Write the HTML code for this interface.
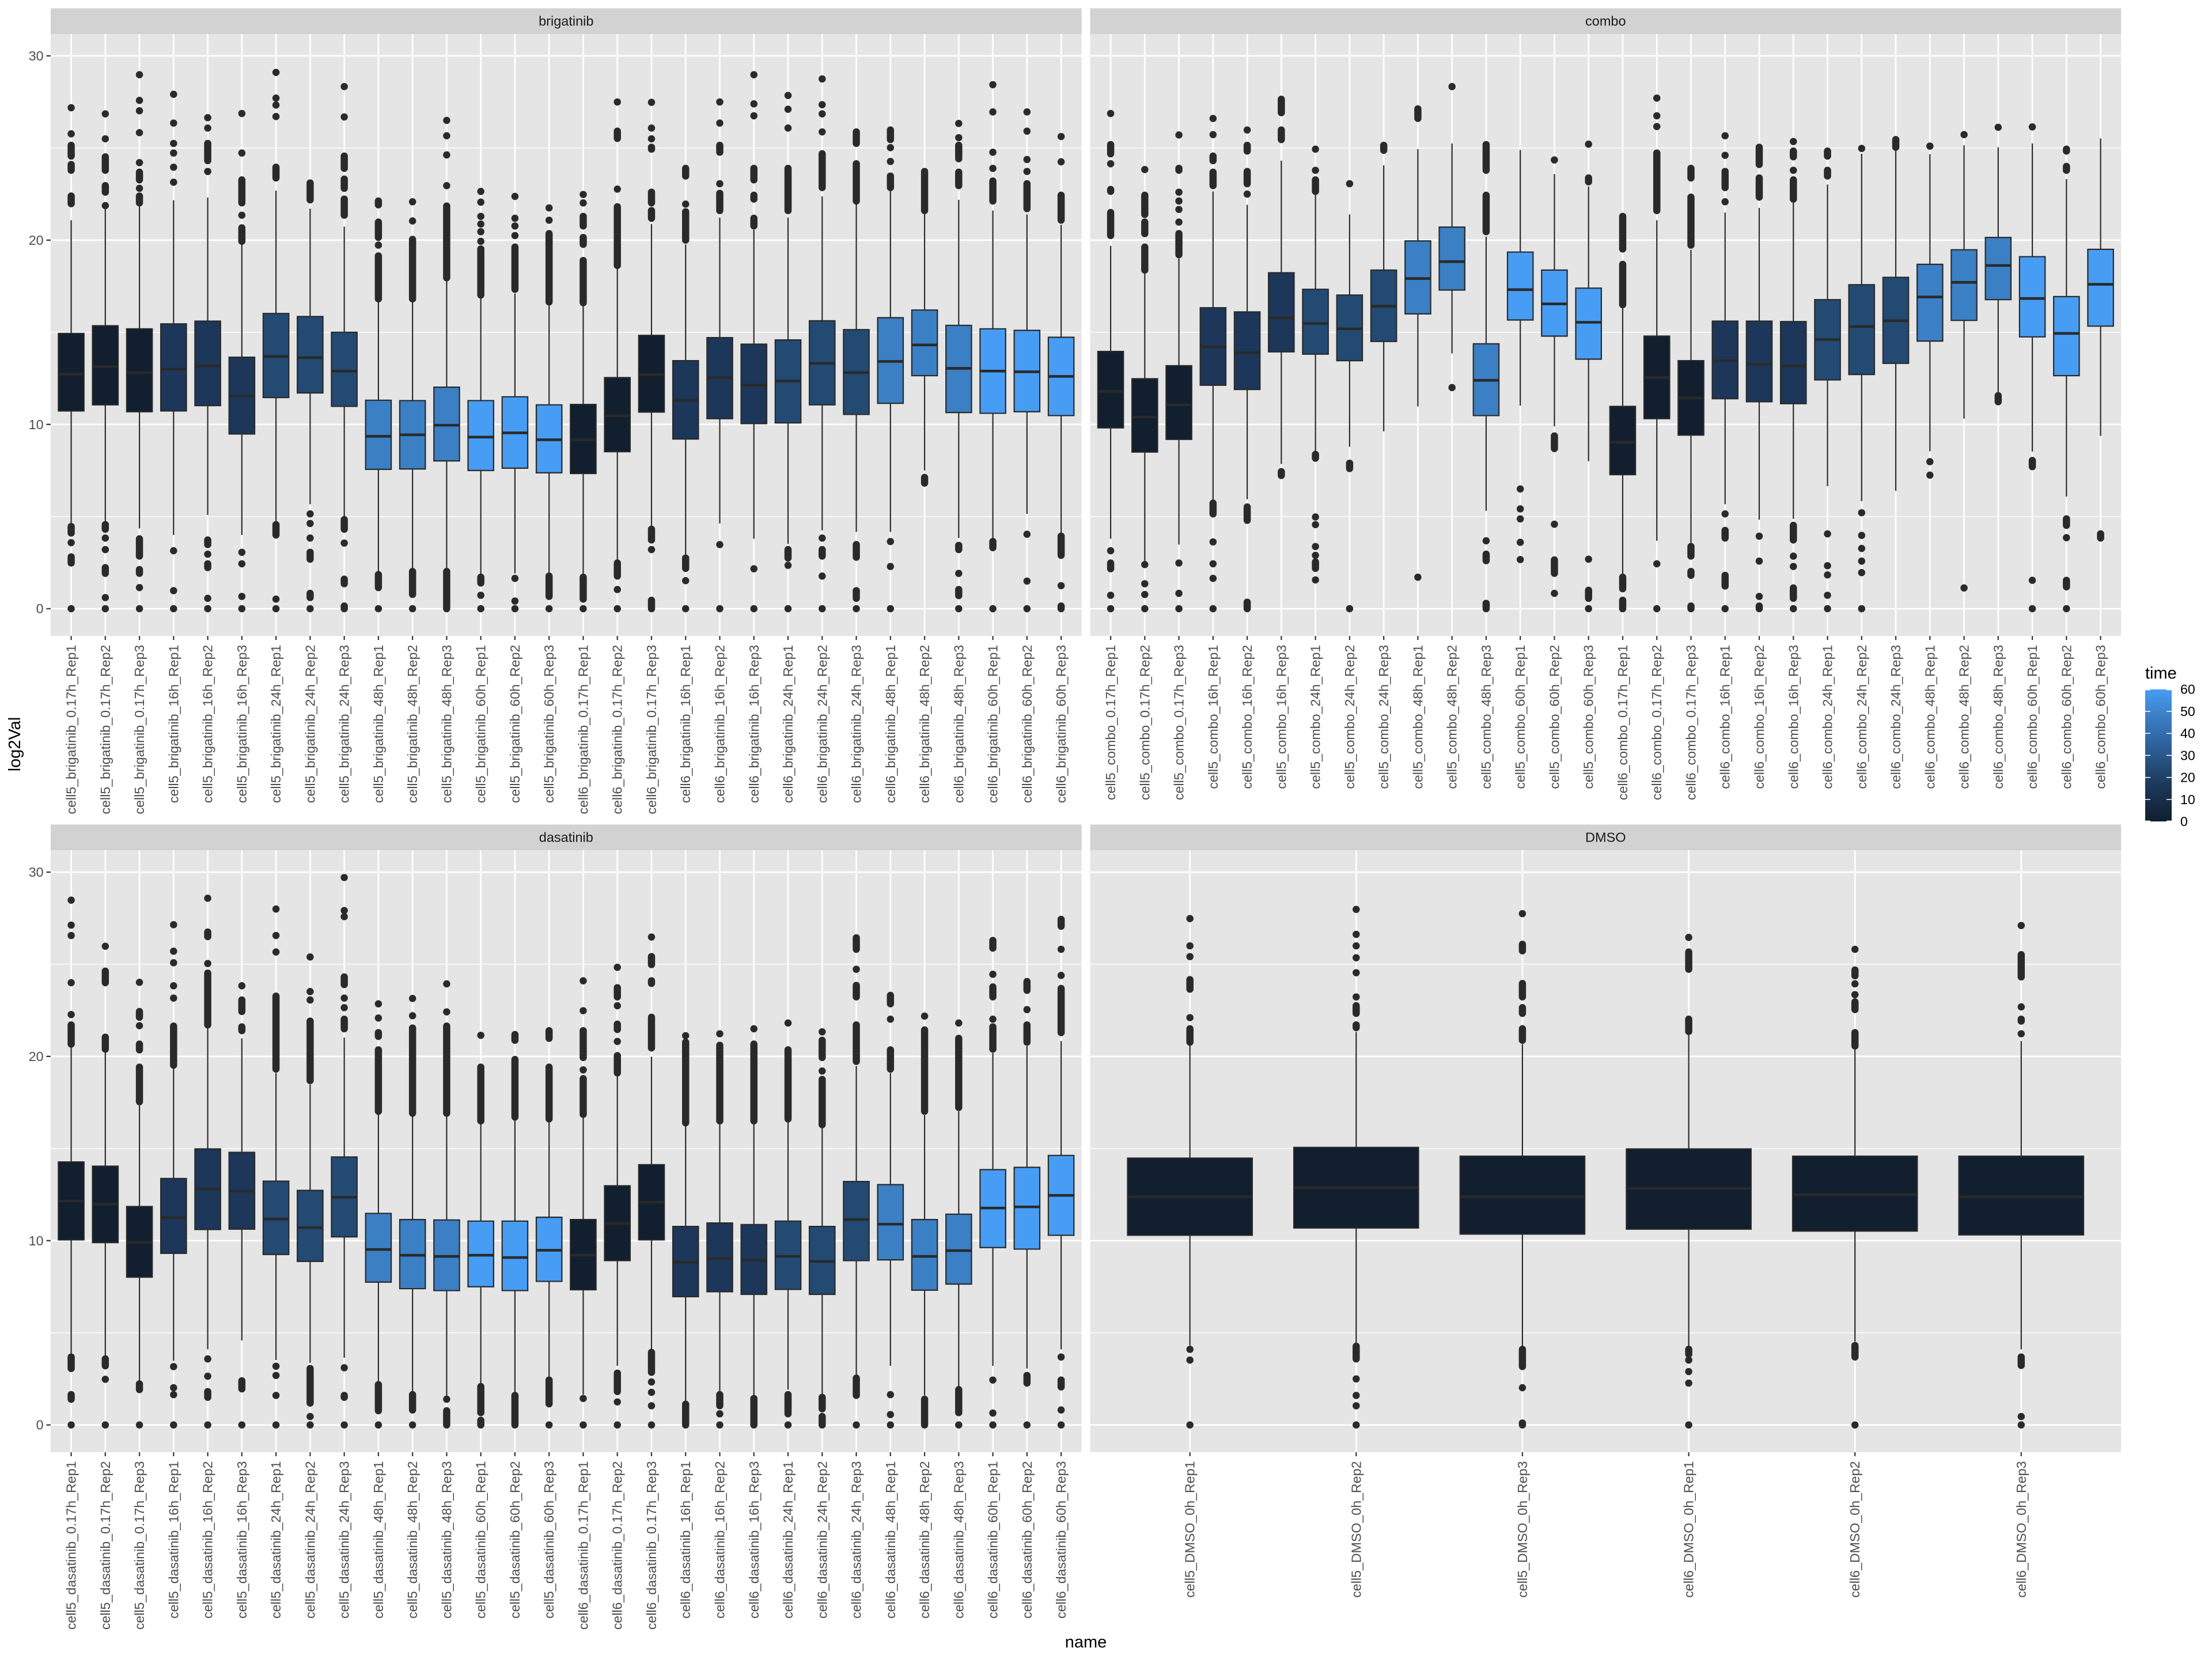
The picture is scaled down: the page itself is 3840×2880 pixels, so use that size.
<!DOCTYPE html>
<html><head><meta charset="utf-8"><style>
body{margin:0;background:#fff}
svg{display:block;font-family:"Liberation Sans",Arial,sans-serif}
.ns path,.ns rect{vector-effect:non-scaling-stroke}
.w{fill:none;stroke:#2A2A2A;stroke-width:2.2}
.bx rect{stroke:#2A2A2A;stroke-width:2.2}
.md{fill:none;stroke:#2A2A2A;stroke-width:4.6}
.o{fill:none;stroke:#2A2A2A;stroke-width:12.5;stroke-linecap:round}
.a{fill:#111F2F}.b{fill:#1C3759}.c{fill:#234A73}.d{fill:#3B7FC4}.e{fill:#479DF4}
.xl text{font-size:23.2px;fill:#4D4D4D;text-anchor:end;dominant-baseline:central}
.yl{font-size:23.2px;fill:#4D4D4D;text-anchor:end;dominant-baseline:central}
.st{font-size:23.5px;fill:#1A1A1A;text-anchor:middle;dominant-baseline:central}
.lg{font-size:23.2px;fill:#000;dominant-baseline:central}
</style></head><body>
<svg width="3840" height="2880" viewBox="0 0 3840 2880" xmlns="http://www.w3.org/2000/svg">
<defs>
<linearGradient id="cb" x1="0" y1="1" x2="0" y2="0">
<stop offset="0" stop-color="#111F2F"/><stop offset="0.2667" stop-color="#1C3759"/><stop offset="0.4" stop-color="#234A73"/><stop offset="0.6" stop-color="#2F64A0"/><stop offset="0.8" stop-color="#3B7FC4"/><stop offset="1" stop-color="#479DF4"/>
</linearGradient>
<path id="vg" fill="none" stroke="#fff" stroke-width="2.7" d="M123.56 0V1045M182.82 0V1045M242.08 0V1045M301.34 0V1045M360.6 0V1045M419.86 0V1045M479.12 0V1045M538.38 0V1045M597.64 0V1045M656.9 0V1045M716.16 0V1045M775.42 0V1045M834.68 0V1045M893.94 0V1045M953.2 0V1045M1012.46 0V1045M1071.72 0V1045M1130.98 0V1045M1190.24 0V1045M1249.5 0V1045M1308.76 0V1045M1368.02 0V1045M1427.28 0V1045M1486.54 0V1045M1545.8 0V1045M1605.06 0V1045M1664.32 0V1045M1723.58 0V1045M1782.84 0V1045M1842.1 0V1045"/>
<path id="xt" fill="none" stroke="#333" stroke-width="2.2" d="M123.56 0v7M182.82 0v7M242.08 0v7M301.34 0v7M360.6 0v7M419.86 0v7M479.12 0v7M538.38 0v7M597.64 0v7M656.9 0v7M716.16 0v7M775.42 0v7M834.68 0v7M893.94 0v7M953.2 0v7M1012.46 0v7M1071.72 0v7M1130.98 0v7M1190.24 0v7M1249.5 0v7M1308.76 0v7M1368.02 0v7M1427.28 0v7M1486.54 0v7M1545.8 0v7M1605.06 0v7M1664.32 0v7M1723.58 0v7M1782.84 0v7M1842.1 0v7"/>
<path id="hM" fill="none" stroke="#fff" stroke-width="2.7" d="M0 37.99h1789.65M0 357.87h1789.65M0 677.77h1789.65M0 997.67h1789.65"/>
<path id="hm" fill="none" stroke="#fff" stroke-width="1.35" d="M0 197.92h1789.65M0 517.82h1789.65M0 837.72h1789.65"/>
</defs>
<rect width="3840" height="2880" fill="#fff"/>

<!-- strips -->
<rect x="88" y="14.4" width="1789.65" height="44.6" fill="#D2D2D2"/>
<rect x="1892.5" y="14.4" width="1789.65" height="44.6" fill="#D2D2D2"/>
<rect x="88" y="1431.4" width="1789.65" height="44.6" fill="#D2D2D2"/>
<rect x="1892.5" y="1431.4" width="1789.65" height="44.6" fill="#D2D2D2"/>
<text class="st" x="982.8" y="36.7">brigatinib</text>
<text class="st" x="2787.3" y="36.7">combo</text>
<text class="st" x="982.8" y="1453.7">dasatinib</text>
<text class="st" x="2787.3" y="1453.7">DMSO</text>

<!-- panels -->
<rect x="88" y="59" width="1789.65" height="1045" fill="#E5E5E5"/>
<rect x="1892.5" y="59" width="1789.65" height="1045" fill="#E5E5E5"/>
<rect x="88" y="1476" width="1789.65" height="1045" fill="#E5E5E5"/>
<rect x="1892.5" y="1476" width="1789.65" height="1045" fill="#E5E5E5"/>
<use href="#hm" transform="translate(88,59)"/><use href="#hm" transform="translate(1892.5,59)"/><use href="#hm" transform="translate(88,1476)"/><use href="#hm" transform="translate(1892.5,1476)"/>
<use href="#hM" transform="translate(88,59)"/><use href="#hM" transform="translate(1892.5,59)"/><use href="#hM" transform="translate(88,1476)"/><use href="#hM" transform="translate(1892.5,1476)"/>
<use href="#vg" transform="translate(0,59)"/><use href="#vg" transform="translate(1804.5,59)"/><use href="#vg" transform="translate(0,1476)"/>
<path fill="none" stroke="#fff" stroke-width="2.7" d="M2065.7 1476V2521M2354.3 1476V2521M2642.9 1476V2521M2931.6 1476V2521M3220.2 1476V2521M3508.8 1476V2521"/>

<!-- axis ticks -->
<use href="#xt" transform="translate(0,1104)"/><use href="#xt" transform="translate(1804.5,1104)"/><use href="#xt" transform="translate(0,2521)"/>
<path fill="none" stroke="#333" stroke-width="2.2" d="M2065.7 2521v7M2354.3 2521v7M2642.9 2521v7M2931.6 2521v7M3220.2 2521v7M3508.8 2521v7M80.5 1056.67h7.5M80.5 736.77h7.5M80.5 416.87h7.5M80.5 96.99h7.5M80.5 2473.67h7.5M80.5 2153.77h7.5M80.5 1833.87h7.5M80.5 1513.99h7.5"/>
<text class="yl" x="75.5" y="1056.67">0</text><text class="yl" x="75.5" y="736.77">10</text><text class="yl" x="75.5" y="416.87">20</text><text class="yl" x="75.5" y="96.99">30</text>
<text class="yl" x="75.5" y="2473.67">0</text><text class="yl" x="75.5" y="2153.77">10</text><text class="yl" x="75.5" y="1833.87">20</text><text class="yl" x="75.5" y="1513.99">30</text>

<!-- ===== brigatinib ===== -->
<g class="ns" transform="translate(0,59) scale(1,0.66645)">
<path class="w" d="M123.56 485V1280M182.82 455V1270M242.08 442V1288M301.34 433V1305M360.6 426V1253M419.86 548V1305M479.12 408V1275M538.38 455V1225M597.64 502V1262M656.9 690V1405M716.16 690V1400M775.42 635V1397M834.68 680V1412M893.94 676V1405M953.2 698V1405M1012.46 700V1408M1071.72 603V1372M1130.98 495V1282M1190.24 548V1357M1249.5 478V1275M1308.76 510V1315M1368.02 478V1328M1427.28 423V1293M1486.54 440V1297M1545.8 408V1297M1605.06 468V1137M1664.32 432V1313M1723.58 460V1315M1782.84 470V1250M1842.1 497V1303"/>
<g class="bx">
<rect class="a" x="101.36" y="780" width="44.4" height="202"/><rect class="a" x="160.62" y="760" width="44.4" height="206"/><rect class="a" x="219.88" y="768" width="44.4" height="216"/>
<rect class="b" x="279.14" y="755" width="44.4" height="227"/><rect class="b" x="338.4" y="748" width="44.4" height="220"/><rect class="b" x="397.66" y="842" width="44.4" height="200"/>
<rect class="c" x="456.92" y="728" width="44.4" height="219"/><rect class="c" x="516.18" y="736" width="44.4" height="199"/><rect class="c" x="575.44" y="777" width="44.4" height="193"/>
<rect class="d" x="634.7" y="954" width="44.4" height="180"/><rect class="d" x="693.96" y="955" width="44.4" height="178"/><rect class="d" x="753.22" y="920" width="44.4" height="192"/>
<rect class="e" x="812.48" y="955" width="44.4" height="182"/><rect class="e" x="871.74" y="945" width="44.4" height="186"/><rect class="e" x="931" y="966" width="44.4" height="177"/>
<rect class="a" x="990.26" y="965" width="44.4" height="180"/><rect class="a" x="1049.52" y="895" width="44.4" height="193"/><rect class="a" x="1108.78" y="785" width="44.4" height="200"/>
<rect class="b" x="1168.04" y="851" width="44.4" height="204"/><rect class="b" x="1227.3" y="791" width="44.4" height="211"/><rect class="b" x="1286.56" y="808" width="44.4" height="207"/>
<rect class="c" x="1345.82" y="797" width="44.4" height="216"/><rect class="c" x="1405.08" y="747" width="44.4" height="219"/><rect class="c" x="1464.34" y="770" width="44.4" height="221"/>
<rect class="d" x="1523.6" y="739" width="44.4" height="223"/><rect class="d" x="1582.86" y="719" width="44.4" height="171"/><rect class="d" x="1642.12" y="759" width="44.4" height="227"/>
<rect class="e" x="1701.38" y="768" width="44.4" height="220"/><rect class="e" x="1760.64" y="772" width="44.4" height="212"/><rect class="e" x="1819.9" y="790" width="44.4" height="204"/>
</g>
<path class="md" d="M101.36 886h44.4M160.62 866h44.4M219.88 882h44.4M279.14 873h44.4M338.4 865h44.4M397.66 943h44.4M456.92 840h44.4M516.18 843h44.4M575.44 878h44.4M634.7 1048h44.4M693.96 1044h44.4M753.22 1019h44.4M812.48 1050h44.4M871.74 1039h44.4M931 1057h44.4M990.26 1057h44.4M1049.52 995h44.4M1108.78 887h44.4M1168.04 954h44.4M1227.3 895h44.4M1286.56 915h44.4M1345.82 904h44.4M1405.08 858h44.4M1464.34 882h44.4M1523.6 853h44.4M1582.86 810h44.4M1642.12 871h44.4M1701.38 878h44.4M1760.64 880h44.4M1819.9 892h44.4"/>
<g class="o">
<path transform="translate(123.56)" d="M0 192v.1M0 260v.1M0 290V318M0 340V355M0 422V442M0 1283V1300M0 1325v.1M0 1362V1378M0 1497v.1"/>
<path transform="translate(182.82)" d="M0 208v.1M0 273v.1M0 320V355M0 395V412M0 447v.1M0 1278V1290M0 1313v.1M0 1343v.1M0 1390V1405M0 1468v.1M0 1497v.1"/>
<path transform="translate(242.08)" d="M0 106v.1M0 173v.1M0 200v.1M0 257v.1M0 335v.1M0 360V380M0 402v.1M0 422V440M0 1315V1360M0 1395V1405M0 1442v.1M0 1497v.1"/>
<path transform="translate(301.34)" d="M0 157v.1M0 232v.1M0 285v.1M0 310v.1M0 347v.1M0 386v.1M0 1346v.1M0 1450v.1M0 1497v.1"/>
<path transform="translate(360.6)" d="M0 218v.1M0 245v.1M0 285V330M0 358v.1M0 1318V1330M0 1355v.1M0 1380V1390M0 1470v.1M0 1497v.1"/>
<path transform="translate(419.86)" d="M0 207v.1M0 310v.1M0 380V440M0 472v.1M0 505V540M0 1350v.1M0 1380v.1M0 1465v.1M0 1497v.1"/>
<path transform="translate(479.12)" d="M0 100v.1M0 167v.1M0 185v.1M0 215v.1M0 347V375M0 1278V1305M0 1472v.1M0 1497v.1"/>
<path transform="translate(538.38)" d="M0 388V432M0 1250v.1M0 1275v.1M0 1313v.1M0 1350V1368M0 1457V1468M0 1497v.1"/>
<path transform="translate(597.64)" d="M0 137v.1M0 216v.1M0 318V350M0 378V402M0 430V472M0 1265V1290M0 1326v.1M0 1420V1432M0 1490V1497"/>
<path transform="translate(656.9)" d="M0 435V445M0 490V530M0 550v.1M0 578V690M0 1408V1442M0 1497v.1"/>
<path transform="translate(716.16)" d="M0 437v.1M0 487v.1M0 535V690M0 1400V1460M0 1497v.1"/>
<path transform="translate(775.42)" d="M0 225v.1M0 265v.1M0 315v.1M0 395v.1M0 448V635M0 1400V1497"/>
<path transform="translate(834.68)" d="M0 410v.1M0 438v.1M0 475v.1M0 495v.1M0 515v.1M0 540v.1M0 560V680M0 1415V1430M0 1462v.1M0 1497v.1"/>
<path transform="translate(893.94)" d="M0 423v.1M0 480v.1M0 500v.1M0 525v.1M0 555V665M0 1418v.1M0 1477v.1M0 1497v.1"/>
<path transform="translate(953.2)" d="M0 453v.1M0 485v.1M0 520V698M0 1412V1465M0 1497v.1"/>
<path transform="translate(1012.46)" d="M0 418v.1M0 440v.1M0 475V500M0 530V548M0 590V700M0 1415V1472M0 1497v.1"/>
<path transform="translate(1071.72)" d="M0 177v.1M0 253V272M0 404v.1M0 450V603M0 1378V1412M0 1447v.1M0 1497v.1"/>
<path transform="translate(1130.98)" d="M0 178v.1M0 245v.1M0 273v.1M0 295V300M0 412V440M0 460V480M0 1290V1318M0 1343v.1M0 1475V1497"/>
<path transform="translate(1190.24)" d="M0 350V370M0 443v.1M0 463V537M0 1365V1392M0 1424v.1M0 1497v.1"/>
<path transform="translate(1249.5)" d="M0 177v.1M0 232v.1M0 290V308M0 390v.1M0 415V460M0 1330v.1M0 1497v.1"/>
<path transform="translate(1308.76)" d="M0 106v.1M0 182v.1M0 213v.1M0 350V380M0 420V430M0 480V500M0 1393v.1M0 1497v.1"/>
<path transform="translate(1368.02)" d="M0 160v.1M0 196v.1M0 245v.1M0 350V460M0 1343V1365M0 1384v.1M0 1497v.1"/>
<path transform="translate(1427.28)" d="M0 117v.1M0 184v.1M0 208v.1M0 255v.1M0 312V400M0 1313v.1M0 1343V1360M0 1412v.1M0 1497v.1"/>
<path transform="translate(1486.54)" d="M0 255V285M0 338V435M0 1330V1363M0 1450V1470M0 1497v.1"/>
<path transform="translate(1545.8)" d="M0 250V275M0 296v.1M0 332v.1M0 370V400M0 1322v.1M0 1387v.1M0 1497v.1"/>
<path transform="translate(1605.06)" d="M0 358V460M0 1155V1170"/>
<path transform="translate(1664.32)" d="M0 233v.1M0 270v.1M0 290V325M0 360V395M0 1332V1343M0 1405v.1M0 1447V1463M0 1497v.1"/>
<path transform="translate(1723.58)" d="M0 132v.1M0 203v.1M0 308v.1M0 350v.1M0 383V435M0 1322V1338M0 1497v.1"/>
<path transform="translate(1782.84)" d="M0 203v.1M0 253v.1M0 327v.1M0 358v.1M0 390V455M0 1303v.1M0 1425v.1M0 1497v.1"/>
<path transform="translate(1842.1)" d="M0 267v.1M0 333v.1M0 420V485M0 1308V1358M0 1437v.1M0 1490V1497"/>
</g>
</g>

<!-- ===== combo ===== -->
<g class="ns" transform="translate(1804.5,59) scale(1,0.66645)">
<path class="w" d="M123.56 552V1315M182.82 620V1380M242.08 585V1330M301.34 410V1215M360.6 445V1212M419.86 330V1120M479.12 412V1090M538.38 470V1075M597.64 342V1035M656.9 300V970M716.16 285V832M775.42 528V1242M834.68 302V968M893.94 365V1022M953.2 397V1113M1012.46 705V1408M1071.72 485V1320M1130.98 562V1330M1190.24 465V1225M1249.5 453V1265M1308.76 435V1263M1368.02 392V1178M1427.28 312V1217M1486.54 298V1190M1545.8 313V1087M1605.06 290V1002M1664.32 295V935M1723.58 285V1088M1782.84 378V1205M1842.1 272V1047"/>
<g class="bx">
<rect class="a" x="101.36" y="827" width="44.4" height="199"/><rect class="a" x="160.62" y="898" width="44.4" height="191"/><rect class="a" x="219.88" y="864" width="44.4" height="192"/>
<rect class="b" x="279.14" y="713" width="44.4" height="202"/><rect class="b" x="338.4" y="724" width="44.4" height="202"/><rect class="b" x="397.66" y="622" width="44.4" height="206"/>
<rect class="c" x="456.92" y="665" width="44.4" height="169"/><rect class="c" x="516.18" y="680" width="44.4" height="171"/><rect class="c" x="575.44" y="615" width="44.4" height="186"/>
<rect class="d" x="634.7" y="539" width="44.4" height="190"/><rect class="d" x="693.96" y="503" width="44.4" height="164"/><rect class="d" x="753.22" y="807" width="44.4" height="187"/>
<rect class="e" x="812.48" y="568" width="44.4" height="177"/><rect class="e" x="871.74" y="615" width="44.4" height="172"/><rect class="e" x="931" y="662" width="44.4" height="185"/>
<rect class="a" x="990.26" y="970" width="44.4" height="178"/><rect class="a" x="1049.52" y="787" width="44.4" height="215"/><rect class="a" x="1108.78" y="851" width="44.4" height="194"/>
<rect class="b" x="1168.04" y="748" width="44.4" height="202"/><rect class="b" x="1227.3" y="748" width="44.4" height="210"/><rect class="b" x="1286.56" y="749" width="44.4" height="214"/>
<rect class="c" x="1345.82" y="692" width="44.4" height="209"/><rect class="c" x="1405.08" y="653" width="44.4" height="234"/><rect class="c" x="1464.34" y="634" width="44.4" height="224"/>
<rect class="d" x="1523.6" y="600" width="44.4" height="200"/><rect class="d" x="1582.86" y="562" width="44.4" height="184"/><rect class="d" x="1642.12" y="530" width="44.4" height="162"/>
<rect class="e" x="1701.38" y="580" width="44.4" height="209"/><rect class="e" x="1760.64" y="684" width="44.4" height="206"/><rect class="e" x="1819.9" y="561" width="44.4" height="200"/>
</g>
<path class="md" d="M101.36 931h44.4M160.62 998h44.4M219.88 966h44.4M279.14 815h44.4M338.4 830h44.4M397.66 740h44.4M456.92 754h44.4M516.18 768h44.4M575.44 709h44.4M634.7 637h44.4M693.96 593h44.4M753.22 902h44.4M812.48 666h44.4M871.74 703h44.4M931 751h44.4M990.26 1063h44.4M1049.52 895h44.4M1108.78 948h44.4M1168.04 851h44.4M1227.3 860h44.4M1286.56 865h44.4M1345.82 796h44.4M1405.08 762h44.4M1464.34 747h44.4M1523.6 685h44.4M1582.86 647h44.4M1642.12 603h44.4M1701.38 689h44.4M1760.64 780h44.4M1819.9 652h44.4"/>
<g class="o">
<path transform="translate(123.56)" d="M0 207v.1M0 288V312M0 338v.1M0 405V410M0 465V525M0 1346v.1M0 1378V1393M0 1462v.1M0 1497v.1"/>
<path transform="translate(182.82)" d="M0 353v.1M0 420V470M0 490V520M0 555V615M0 1382v.1M0 1432v.1M0 1460v.1M0 1497v.1"/>
<path transform="translate(242.08)" d="M0 263v.1M0 350V355M0 412v.1M0 435v.1M0 457v.1M0 490v.1M0 520V575M0 1378v.1M0 1457v.1M0 1497v.1"/>
<path transform="translate(301.34)" d="M0 220v.1M0 262v.1M0 318V330M0 360V395M0 1222V1250M0 1323v.1M0 1380v.1M0 1418v.1M0 1497v.1"/>
<path transform="translate(360.6)" d="M0 250v.1M0 290V305M0 358V390M0 417v.1M0 1232V1267M0 1480V1497"/>
<path transform="translate(419.86)" d="M0 170V205M0 250V275M0 1140V1150"/>
<path transform="translate(479.12)" d="M0 300v.1M0 355v.1M0 380V410M0 1095V1105M0 1258v.1M0 1278v.1M0 1335v.1M0 1358v.1M0 1375V1392M0 1422v.1"/>
<path transform="translate(538.38)" d="M0 390v.1M0 1118V1132M0 1497v.1"/>
<path transform="translate(597.64)" d="M0 290V303"/>
<path transform="translate(656.9)" d="M0 195V220M0 1415v.1"/>
<path transform="translate(716.16)" d="M0 137v.1M0 921v.1"/>
<path transform="translate(775.42)" d="M0 288V355M0 420V515M0 1320v.1M0 1355V1372M0 1483V1497"/>
<path transform="translate(834.68)" d="M0 1185v.1M0 1237v.1M0 1263v.1M0 1324v.1M0 1369v.1"/>
<path transform="translate(893.94)" d="M0 328v.1M0 1047V1080M0 1277v.1M0 1370V1405M0 1457v.1"/>
<path transform="translate(953.2)" d="M0 287v.1M0 375V385M0 1368v.1M0 1449V1470M0 1497v.1"/>
<path transform="translate(1012.46)" d="M0 475V560M0 600V705M0 1415V1445M0 1475V1497"/>
<path transform="translate(1071.72)" d="M0 167v.1M0 213v.1M0 241v.1M0 310V460M0 1380v.1M0 1497v.1"/>
<path transform="translate(1130.98)" d="M0 350V375M0 425V550M0 1335V1360M0 1400V1410M0 1490V1497"/>
<path transform="translate(1190.24)" d="M0 265v.1M0 316v.1M0 358V400M0 437v.1M0 1250v.1M0 1293V1313M0 1410V1438M0 1497v.1"/>
<path transform="translate(1249.5)" d="M0 295V340M0 375V425M0 1308v.1M0 1373v.1M0 1465v.1M0 1490V1497"/>
<path transform="translate(1308.76)" d="M0 280v.1M0 305V320M0 355v.1M0 380V430M0 1280V1318M0 1360v.1M0 1387v.1M0 1443V1470M0 1497v.1"/>
<path transform="translate(1368.02)" d="M0 305V318M0 355V370M0 1302v.1M0 1385v.1M0 1409v.1M0 1462v.1M0 1497v.1"/>
<path transform="translate(1427.28)" d="M0 298v.1M0 1247v.1M0 1306v.1M0 1340v.1M0 1373v.1M0 1403v.1M0 1497v.1"/>
<path transform="translate(1486.54)" d="M0 275V295"/>
<path transform="translate(1545.8)" d="M0 292v.1M0 1114v.1M0 1149v.1"/>
<path transform="translate(1605.06)" d="M0 262v.1M0 1443v.1"/>
<path transform="translate(1664.32)" d="M0 243v.1M0 942V958"/>
<path transform="translate(1723.58)" d="M0 242v.1M0 1111V1127M0 1423v.1M0 1497v.1"/>
<path transform="translate(1782.84)" d="M0 300V305M0 345V355M0 1263V1280M0 1312v.1M0 1423V1440M0 1497v.1"/>
<path transform="translate(1842.1)" d="M0 1302V1313"/>
</g>
</g>

<!-- ===== dasatinib ===== -->
<g class="ns" transform="translate(0,1476) scale(1,0.66645)">
<path class="w" d="M123.56 510V1318M182.82 525V1322M242.08 657V1387M301.34 568V1330M360.6 463V1300M419.86 490V1277M479.12 580V1328M538.38 610V1335M597.64 488V1322M656.9 683V1390M716.16 690V1415M775.42 690V1425M834.68 705V1395M893.94 700V1418M953.2 706V1380M1012.46 690V1418M1071.72 585V1343M1130.98 538V1305M1190.24 712V1440M1249.5 707V1415M1308.76 710V1425M1368.02 705V1405M1427.28 718V1420M1486.54 562V1370M1545.8 580V1343M1605.06 690V1420M1664.32 680V1400M1723.58 528V1343M1782.84 510V1350M1842.1 497V1300"/>
<g class="bx">
<rect class="a" x="101.36" y="812" width="44.4" height="203"/><rect class="a" x="160.62" y="823" width="44.4" height="199"/><rect class="a" x="219.88" y="928" width="44.4" height="184"/>
<rect class="b" x="279.14" y="855" width="44.4" height="195"/><rect class="b" x="338.4" y="778" width="44.4" height="210"/><rect class="b" x="397.66" y="787" width="44.4" height="200"/>
<rect class="c" x="456.92" y="862" width="44.4" height="191"/><rect class="c" x="516.18" y="886" width="44.4" height="185"/><rect class="c" x="575.44" y="799" width="44.4" height="208"/>
<rect class="d" x="634.7" y="946" width="44.4" height="179"/><rect class="d" x="693.96" y="962" width="44.4" height="180"/><rect class="d" x="753.22" y="963" width="44.4" height="184"/>
<rect class="e" x="812.48" y="966" width="44.4" height="171"/><rect class="e" x="871.74" y="966" width="44.4" height="181"/><rect class="e" x="931" y="956" width="44.4" height="167"/>
<rect class="a" x="990.26" y="962" width="44.4" height="183"/><rect class="a" x="1049.52" y="874" width="44.4" height="195"/><rect class="a" x="1108.78" y="819" width="44.4" height="196"/>
<rect class="b" x="1168.04" y="980" width="44.4" height="183"/><rect class="b" x="1227.3" y="971" width="44.4" height="179"/><rect class="b" x="1286.56" y="975" width="44.4" height="182"/>
<rect class="c" x="1345.82" y="966" width="44.4" height="178"/><rect class="c" x="1405.08" y="980" width="44.4" height="177"/><rect class="c" x="1464.34" y="863" width="44.4" height="206"/>
<rect class="d" x="1523.6" y="871" width="44.4" height="196"/><rect class="d" x="1582.86" y="962" width="44.4" height="184"/><rect class="d" x="1642.12" y="948" width="44.4" height="182"/>
<rect class="e" x="1701.38" y="832" width="44.4" height="203"/><rect class="e" x="1760.64" y="826" width="44.4" height="213"/><rect class="e" x="1819.9" y="795" width="44.4" height="208"/>
</g>
<path class="md" d="M101.36 914h44.4M160.62 922h44.4M219.88 1022h44.4M279.14 957h44.4M338.4 882h44.4M397.66 888h44.4M456.92 961h44.4M516.18 983h44.4M575.44 904h44.4M634.7 1040h44.4M693.96 1055h44.4M753.22 1058h44.4M812.48 1055h44.4M871.74 1061h44.4M931 1042h44.4M990.26 1055h44.4M1049.52 972h44.4M1108.78 917h44.4M1168.04 1073h44.4M1227.3 1064h44.4M1286.56 1068h44.4M1345.82 1058h44.4M1405.08 1071h44.4M1464.34 962h44.4M1523.6 974h44.4M1582.86 1058h44.4M1642.12 1043h44.4M1701.38 932h44.4M1760.64 929h44.4M1819.9 899h44.4"/>
<g class="o">
<path transform="translate(123.56)" d="M0 130v.1M0 195v.1M0 222v.1M0 345v.1M0 428v.1M0 455V505M0 1320V1350M0 1418V1430M0 1497v.1"/>
<path transform="translate(182.82)" d="M0 250v.1M0 315V345M0 487V518M0 1325V1343M0 1378v.1M0 1497v.1"/>
<path transform="translate(242.08)" d="M0 344v.1M0 420V435M0 457v.1M0 505V520M0 565V655M0 1390V1405M0 1497v.1"/>
<path transform="translate(301.34)" d="M0 194v.1M0 263v.1M0 293v.1M0 353v.1M0 385v.1M0 458V560M0 1345v.1M0 1400v.1M0 1418v.1M0 1497v.1"/>
<path transform="translate(360.6)" d="M0 125v.1M0 213V225M0 295v.1M0 320V455M0 1325v.1M0 1370v.1M0 1410V1425M0 1497v.1"/>
<path transform="translate(419.86)" d="M0 353v.1M0 390V420M0 460V470M0 1382V1403M0 1497v.1"/>
<path transform="translate(479.12)" d="M0 153v.1M0 222v.1M0 265v.1M0 380V570M0 1344v.1M0 1368v.1M0 1420v.1M0 1497v.1"/>
<path transform="translate(538.38)" d="M0 278v.1M0 368v.1M0 390v.1M0 445V600M0 1350V1440M0 1475v.1M0 1497v.1"/>
<path transform="translate(597.64)" d="M0 71v.1M0 157v.1M0 173v.1M0 330V350M0 385v.1M0 410v.1M0 440V465M0 1348v.1M0 1420V1425M0 1497v.1"/>
<path transform="translate(656.9)" d="M0 400v.1M0 437v.1M0 475V485M0 520V680M0 1392V1460M0 1497v.1"/>
<path transform="translate(716.16)" d="M0 386v.1M0 431v.1M0 463V685M0 1418V1458M0 1497v.1"/>
<path transform="translate(775.42)" d="M0 348v.1M0 421v.1M0 458V685M0 1430v.1M0 1460V1497"/>
<path transform="translate(834.68)" d="M0 482v.1M0 565V705M0 1397V1465M0 1485V1497"/>
<path transform="translate(893.94)" d="M0 480V495M0 545V695M0 1420V1497"/>
<path transform="translate(953.2)" d="M0 470V490M0 565V700M0 1380V1442M0 1497v.1"/>
<path transform="translate(1012.46)" d="M0 340v.1M0 418v.1M0 470V540M0 572v.1M0 595V688M0 1428v.1M0 1497v.1"/>
<path transform="translate(1071.72)" d="M0 305v.1M0 358V382M0 405v.1M0 453V467M0 498v.1M0 535V580M0 1362V1410M0 1437v.1M0 1497v.1"/>
<path transform="translate(1130.98)" d="M0 226v.1M0 277V298M0 340V347M0 435V515M0 1308V1360M0 1385v.1M0 1412v.1M0 1447v.1M0 1497v.1"/>
<path transform="translate(1190.24)" d="M0 483v.1M0 500V710M0 1443V1497"/>
<path transform="translate(1249.5)" d="M0 478v.1M0 508V705M0 1418V1447M0 1468v.1M0 1497v.1"/>
<path transform="translate(1308.76)" d="M0 465v.1M0 505V705M0 1428V1497"/>
<path transform="translate(1368.02)" d="M0 450v.1M0 520V700M0 1418V1468M0 1497v.1"/>
<path transform="translate(1427.28)" d="M0 473v.1M0 495V540M0 575v.1M0 597V715M0 1425V1455M0 1475V1497"/>
<path transform="translate(1486.54)" d="M0 228V258M0 310v.1M0 352V382M0 455V550M0 1375V1420M0 1497v.1"/>
<path transform="translate(1545.8)" d="M0 378V400M0 440v.1M0 520V570M0 1418v.1M0 1470v.1M0 1497v.1"/>
<path transform="translate(1605.06)" d="M0 432v.1M0 468V680M0 1430V1497"/>
<path transform="translate(1664.32)" d="M0 450v.1M0 490V670M0 1405V1465M0 1497v.1"/>
<path transform="translate(1723.58)" d="M0 235V255M0 323v.1M0 356V382M0 440v.1M0 460V518M0 1380v.1M0 1466v.1M0 1497v.1"/>
<path transform="translate(1782.84)" d="M0 342V365M0 415v.1M0 455V500M0 1368V1388M0 1497v.1"/>
<path transform="translate(1842.1)" d="M0 180V198M0 258v.1M0 326v.1M0 360V475M0 1320v.1M0 1380V1398M0 1458v.1M0 1497v.1"/>
</g>
</g>

<!-- ===== DMSO ===== -->
<g class="ns" transform="translate(0,1476) scale(1,0.66645)">
<path class="w" d="M2065.7 503V1290M2354.3 473V1285M2642.9 505V1295M2931.6 475V1293M3220.2 515V1280M3508.8 497V1300"/>
<g class="bx">
<rect class="a" x="1957.5" y="802" width="216.4" height="201"/><rect class="a" x="2246.1" y="774" width="216.4" height="210"/><rect class="a" x="2534.7" y="797" width="216.4" height="203"/>
<rect class="a" x="2823.4" y="778" width="216.4" height="209"/><rect class="a" x="3112" y="797" width="216.4" height="195"/><rect class="a" x="3400.6" y="797" width="216.4" height="205"/>
</g>
<path class="md" d="M1957.5 903h216.4M2246.1 879h216.4M2534.7 903h216.4M2823.4 881h216.4M3112 897h216.4M3400.6 903h216.4"/>
<g class="o">
<path transform="translate(2065.7)" d="M0 178v.1M0 249v.1M0 277v.1M0 337V362M0 436v.1M0 465V500M0 1300v.1M0 1328v.1M0 1497v.1"/>
<path transform="translate(2354.3)" d="M0 154v.1M0 219v.1M0 249v.1M0 280v.1M0 319v.1M0 382v.1M0 405V425M0 455V462M0 1292V1325M0 1377v.1M0 1420v.1M0 1447v.1M0 1497v.1"/>
<path transform="translate(2642.9)" d="M0 165v.1M0 245V262M0 347V382M0 410V425M0 465V495M0 1300V1345M0 1400v.1M0 1492V1497"/>
<path transform="translate(2931.6)" d="M0 227v.1M0 265V310M0 440V472M0 1300V1313M0 1328v.1M0 1358v.1M0 1388v.1M0 1497v.1"/>
<path transform="translate(3220.2)" d="M0 258v.1M0 312V327M0 348v.1M0 376v.1M0 395V415M0 475V510M0 1290V1320M0 1497v.1"/>
<path transform="translate(3508.8)" d="M0 196v.1M0 272V330M0 408v.1M0 440V445M0 478v.1M0 1320V1342M0 1475v.1M0 1497v.1"/>
</g>
</g>

<!-- x labels top-left -->
<g class="xl" transform="translate(0,1119.5)">
<text transform="translate(123.56)rotate(-90)">cell5_brigatinib_0.17h_Rep1</text>
<text transform="translate(182.82)rotate(-90)">cell5_brigatinib_0.17h_Rep2</text>
<text transform="translate(242.08)rotate(-90)">cell5_brigatinib_0.17h_Rep3</text>
<text transform="translate(301.34)rotate(-90)">cell5_brigatinib_16h_Rep1</text>
<text transform="translate(360.6)rotate(-90)">cell5_brigatinib_16h_Rep2</text>
<text transform="translate(419.86)rotate(-90)">cell5_brigatinib_16h_Rep3</text>
<text transform="translate(479.12)rotate(-90)">cell5_brigatinib_24h_Rep1</text>
<text transform="translate(538.38)rotate(-90)">cell5_brigatinib_24h_Rep2</text>
<text transform="translate(597.64)rotate(-90)">cell5_brigatinib_24h_Rep3</text>
<text transform="translate(656.9)rotate(-90)">cell5_brigatinib_48h_Rep1</text>
<text transform="translate(716.16)rotate(-90)">cell5_brigatinib_48h_Rep2</text>
<text transform="translate(775.42)rotate(-90)">cell5_brigatinib_48h_Rep3</text>
<text transform="translate(834.68)rotate(-90)">cell5_brigatinib_60h_Rep1</text>
<text transform="translate(893.94)rotate(-90)">cell5_brigatinib_60h_Rep2</text>
<text transform="translate(953.2)rotate(-90)">cell5_brigatinib_60h_Rep3</text>
<text transform="translate(1012.46)rotate(-90)">cell6_brigatinib_0.17h_Rep1</text>
<text transform="translate(1071.72)rotate(-90)">cell6_brigatinib_0.17h_Rep2</text>
<text transform="translate(1130.98)rotate(-90)">cell6_brigatinib_0.17h_Rep3</text>
<text transform="translate(1190.24)rotate(-90)">cell6_brigatinib_16h_Rep1</text>
<text transform="translate(1249.5)rotate(-90)">cell6_brigatinib_16h_Rep2</text>
<text transform="translate(1308.76)rotate(-90)">cell6_brigatinib_16h_Rep3</text>
<text transform="translate(1368.02)rotate(-90)">cell6_brigatinib_24h_Rep1</text>
<text transform="translate(1427.28)rotate(-90)">cell6_brigatinib_24h_Rep2</text>
<text transform="translate(1486.54)rotate(-90)">cell6_brigatinib_24h_Rep3</text>
<text transform="translate(1545.8)rotate(-90)">cell6_brigatinib_48h_Rep1</text>
<text transform="translate(1605.06)rotate(-90)">cell6_brigatinib_48h_Rep2</text>
<text transform="translate(1664.32)rotate(-90)">cell6_brigatinib_48h_Rep3</text>
<text transform="translate(1723.58)rotate(-90)">cell6_brigatinib_60h_Rep1</text>
<text transform="translate(1782.84)rotate(-90)">cell6_brigatinib_60h_Rep2</text>
<text transform="translate(1842.1)rotate(-90)">cell6_brigatinib_60h_Rep3</text>
</g>
<!-- x labels top-right -->
<g class="xl" transform="translate(1804.5,1119.5)">
<text transform="translate(123.56)rotate(-90)">cell5_combo_0.17h_Rep1</text>
<text transform="translate(182.82)rotate(-90)">cell5_combo_0.17h_Rep2</text>
<text transform="translate(242.08)rotate(-90)">cell5_combo_0.17h_Rep3</text>
<text transform="translate(301.34)rotate(-90)">cell5_combo_16h_Rep1</text>
<text transform="translate(360.6)rotate(-90)">cell5_combo_16h_Rep2</text>
<text transform="translate(419.86)rotate(-90)">cell5_combo_16h_Rep3</text>
<text transform="translate(479.12)rotate(-90)">cell5_combo_24h_Rep1</text>
<text transform="translate(538.38)rotate(-90)">cell5_combo_24h_Rep2</text>
<text transform="translate(597.64)rotate(-90)">cell5_combo_24h_Rep3</text>
<text transform="translate(656.9)rotate(-90)">cell5_combo_48h_Rep1</text>
<text transform="translate(716.16)rotate(-90)">cell5_combo_48h_Rep2</text>
<text transform="translate(775.42)rotate(-90)">cell5_combo_48h_Rep3</text>
<text transform="translate(834.68)rotate(-90)">cell5_combo_60h_Rep1</text>
<text transform="translate(893.94)rotate(-90)">cell5_combo_60h_Rep2</text>
<text transform="translate(953.2)rotate(-90)">cell5_combo_60h_Rep3</text>
<text transform="translate(1012.46)rotate(-90)">cell6_combo_0.17h_Rep1</text>
<text transform="translate(1071.72)rotate(-90)">cell6_combo_0.17h_Rep2</text>
<text transform="translate(1130.98)rotate(-90)">cell6_combo_0.17h_Rep3</text>
<text transform="translate(1190.24)rotate(-90)">cell6_combo_16h_Rep1</text>
<text transform="translate(1249.5)rotate(-90)">cell6_combo_16h_Rep2</text>
<text transform="translate(1308.76)rotate(-90)">cell6_combo_16h_Rep3</text>
<text transform="translate(1368.02)rotate(-90)">cell6_combo_24h_Rep1</text>
<text transform="translate(1427.28)rotate(-90)">cell6_combo_24h_Rep2</text>
<text transform="translate(1486.54)rotate(-90)">cell6_combo_24h_Rep3</text>
<text transform="translate(1545.8)rotate(-90)">cell6_combo_48h_Rep1</text>
<text transform="translate(1605.06)rotate(-90)">cell6_combo_48h_Rep2</text>
<text transform="translate(1664.32)rotate(-90)">cell6_combo_48h_Rep3</text>
<text transform="translate(1723.58)rotate(-90)">cell6_combo_60h_Rep1</text>
<text transform="translate(1782.84)rotate(-90)">cell6_combo_60h_Rep2</text>
<text transform="translate(1842.1)rotate(-90)">cell6_combo_60h_Rep3</text>
</g>
<!-- x labels bottom-left -->
<g class="xl" transform="translate(0,2536.5)">
<text transform="translate(123.56)rotate(-90)">cell5_dasatinib_0.17h_Rep1</text>
<text transform="translate(182.82)rotate(-90)">cell5_dasatinib_0.17h_Rep2</text>
<text transform="translate(242.08)rotate(-90)">cell5_dasatinib_0.17h_Rep3</text>
<text transform="translate(301.34)rotate(-90)">cell5_dasatinib_16h_Rep1</text>
<text transform="translate(360.6)rotate(-90)">cell5_dasatinib_16h_Rep2</text>
<text transform="translate(419.86)rotate(-90)">cell5_dasatinib_16h_Rep3</text>
<text transform="translate(479.12)rotate(-90)">cell5_dasatinib_24h_Rep1</text>
<text transform="translate(538.38)rotate(-90)">cell5_dasatinib_24h_Rep2</text>
<text transform="translate(597.64)rotate(-90)">cell5_dasatinib_24h_Rep3</text>
<text transform="translate(656.9)rotate(-90)">cell5_dasatinib_48h_Rep1</text>
<text transform="translate(716.16)rotate(-90)">cell5_dasatinib_48h_Rep2</text>
<text transform="translate(775.42)rotate(-90)">cell5_dasatinib_48h_Rep3</text>
<text transform="translate(834.68)rotate(-90)">cell5_dasatinib_60h_Rep1</text>
<text transform="translate(893.94)rotate(-90)">cell5_dasatinib_60h_Rep2</text>
<text transform="translate(953.2)rotate(-90)">cell5_dasatinib_60h_Rep3</text>
<text transform="translate(1012.46)rotate(-90)">cell6_dasatinib_0.17h_Rep1</text>
<text transform="translate(1071.72)rotate(-90)">cell6_dasatinib_0.17h_Rep2</text>
<text transform="translate(1130.98)rotate(-90)">cell6_dasatinib_0.17h_Rep3</text>
<text transform="translate(1190.24)rotate(-90)">cell6_dasatinib_16h_Rep1</text>
<text transform="translate(1249.5)rotate(-90)">cell6_dasatinib_16h_Rep2</text>
<text transform="translate(1308.76)rotate(-90)">cell6_dasatinib_16h_Rep3</text>
<text transform="translate(1368.02)rotate(-90)">cell6_dasatinib_24h_Rep1</text>
<text transform="translate(1427.28)rotate(-90)">cell6_dasatinib_24h_Rep2</text>
<text transform="translate(1486.54)rotate(-90)">cell6_dasatinib_24h_Rep3</text>
<text transform="translate(1545.8)rotate(-90)">cell6_dasatinib_48h_Rep1</text>
<text transform="translate(1605.06)rotate(-90)">cell6_dasatinib_48h_Rep2</text>
<text transform="translate(1664.32)rotate(-90)">cell6_dasatinib_48h_Rep3</text>
<text transform="translate(1723.58)rotate(-90)">cell6_dasatinib_60h_Rep1</text>
<text transform="translate(1782.84)rotate(-90)">cell6_dasatinib_60h_Rep2</text>
<text transform="translate(1842.1)rotate(-90)">cell6_dasatinib_60h_Rep3</text>
</g>
<!-- x labels DMSO -->
<g class="xl" transform="translate(0,2536.5)">
<text transform="translate(2065.7)rotate(-90)">cell5_DMSO_0h_Rep1</text>
<text transform="translate(2354.3)rotate(-90)">cell5_DMSO_0h_Rep2</text>
<text transform="translate(2642.9)rotate(-90)">cell5_DMSO_0h_Rep3</text>
<text transform="translate(2931.6)rotate(-90)">cell6_DMSO_0h_Rep1</text>
<text transform="translate(3220.2)rotate(-90)">cell6_DMSO_0h_Rep2</text>
<text transform="translate(3508.8)rotate(-90)">cell6_DMSO_0h_Rep3</text>
</g>

<!-- axis titles -->
<text transform="translate(26,1292)rotate(-90)" font-size="29" text-anchor="middle" dominant-baseline="central" fill="#000">log2Val</text>
<text x="1885" y="2860" font-size="29" text-anchor="middle" fill="#000">name</text>

<!-- legend -->
<text x="3724" y="1178" font-size="29" fill="#000">time</text>
<rect x="3724" y="1196.7" width="46" height="229.3" fill="url(#cb)"/>
<path fill="none" stroke="#fff" stroke-width="1.5" d="M3724 1234.9h9M3761 1234.9h9M3724 1273.1h9M3761 1273.1h9M3724 1311.4h9M3761 1311.4h9M3724 1349.6h9M3761 1349.6h9M3724 1387.8h9M3761 1387.8h9M3724 1197.5h9M3761 1197.5h9M3724 1425.2h9M3761 1425.2h9"/>
<text class="lg" x="3785" y="1196.7">60</text>
<text class="lg" x="3785" y="1234.9">50</text>
<text class="lg" x="3785" y="1273.1">40</text>
<text class="lg" x="3785" y="1311.4">30</text>
<text class="lg" x="3785" y="1349.6">20</text>
<text class="lg" x="3785" y="1387.8">10</text>
<text class="lg" x="3785" y="1426">0</text>
</svg>
</body></html>
